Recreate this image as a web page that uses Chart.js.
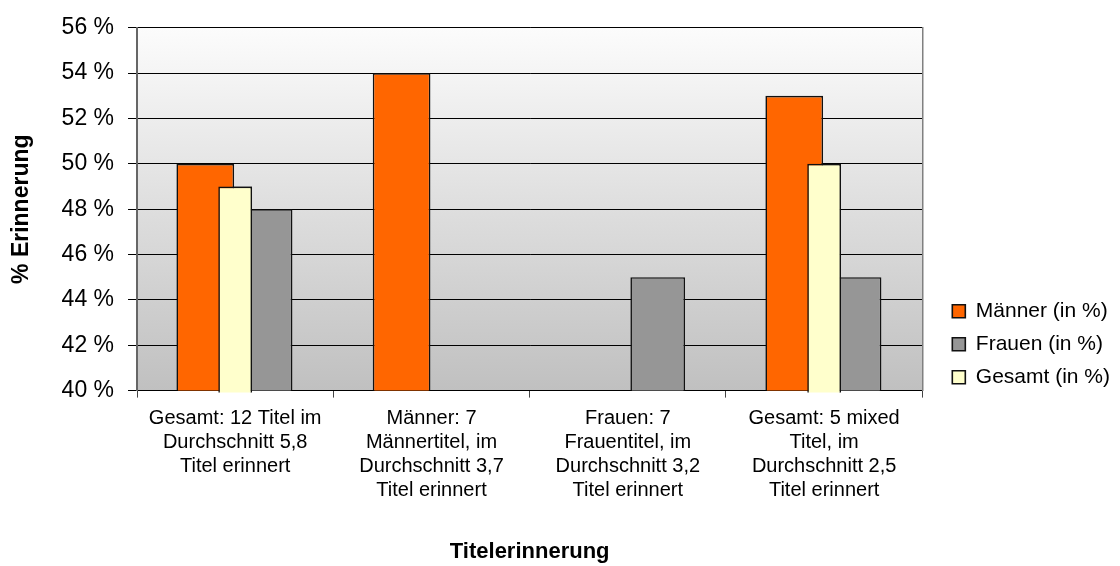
<!DOCTYPE html>
<html>
<head>
<meta charset="utf-8">
<script src="https://cdn.jsdelivr.net/npm/chart.js@4"></script>
<style>
  html, body { margin: 0; padding: 0; background: #fff; }
  #chart { display: block; }
</style>
</head>
<body>
<canvas id="chart" width="1120" height="566"></canvas>
<script>
// categories (multi-line tick labels) and series values
var categories = [
  [ "Gesamt: 12 Titel im", "Durchschnitt 5,8", "Titel erinnert" ],
  [ "Männer: 7", "Männertitel, im", "Durchschnitt 3,7", "Titel erinnert" ],
  [ "Frauen: 7", "Frauentitel, im", "Durchschnitt 3,2", "Titel erinnert" ],
  [ "Gesamt: 5 mixed", "Titel, im", "Durchschnitt 2,5", "Titel erinnert" ]
];
var maenner = [ 50, 54, null, 53 ];
var frauen = [ 48, null, 45, 45 ];
var gesamt = [ 49, null, null, 50 ];
var yTicks = [ 40, 42, 44, 46, 48, 50, 52, 54, 56 ];
var legendOrder = [ "Männer (in %)", "Frauen (in %)", "Gesamt (in %)" ];

var family = "'Liberation Sans', Arial, sans-serif";
Chart.defaults.font.family = family;
Chart.defaults.color = "#000";

// grey gradient behind the plot area
var plotBackground = {
  id: "plotBackground",
  beforeDraw: function ( chart ) {
    var a = chart.chartArea, ctx = chart.ctx;
    var g = ctx.createLinearGradient( 0, a.top, 0, a.bottom );
    g.addColorStop( 0, "#fcfcfc" );
    g.addColorStop( 1, "#c0c0c0" );
    ctx.save();
    ctx.fillStyle = g;
    ctx.fillRect( a.left, a.top, a.right - a.left, a.bottom - a.top );
    ctx.restore();
  }
};

// the middle (Gesamt) bars sit in front of the overlapping neighbours
var frontBars = {
  id: "frontBars",
  afterDatasetsDraw: function ( chart ) {
    var ctx = chart.ctx, a = chart.chartArea;
    ctx.save();
    ctx.beginPath();
    ctx.rect( a.left, a.top - 2, a.right - a.left, a.bottom - a.top + 4 );
    ctx.clip();
    chart.getDatasetMeta( 1 ).controller.draw();
    ctx.restore();
  }
};

var context = document.getElementById( "chart" ).getContext( "2d" );
new Chart( context, {
  type: "bar",
  data: {
    labels: categories,
    datasets: [ {
      label: "Männer (in %)",
      data: maenner,
      backgroundColor: "#ff6600",
      borderColor: "#111",
      borderWidth: 1.6,
      borderSkipped: false,
      categoryPercentage: 0.457,
      barPercentage: 1.93
    }, {
      label: "Gesamt (in %)",
      data: gesamt,
      backgroundColor: "#ffffcc",
      borderColor: "#111",
      borderWidth: 1.6,
      borderSkipped: false,
      categoryPercentage: 0.457,
      barPercentage: 1.13
    }, {
      label: "Frauen (in %)",
      data: frauen,
      backgroundColor: "#969696",
      borderColor: "#111",
      borderWidth: 1.6,
      borderSkipped: false,
      categoryPercentage: 0.457,
      barPercentage: 1.83
    } ]
  },
  options: {
    responsive: false,
    animation: false,
    layout: { padding: { top: 18, right: 0, left: 0, bottom: 0 } },
    plugins: {
      tooltip: { enabled: false },
      legend: {
        position: "right",
        title: { display: true, text: "", font: { size: 12 }, padding: { top: 90, bottom: 0 } },
        labels: {
          font: { size: 21 },
          color: "#000",
          boxWidth: 13,
          boxHeight: 13,
          padding: 12,
          sort: function ( a, b ) {
            return legendOrder.indexOf( a.text ) - legendOrder.indexOf( b.text );
          }
        }
      }
    },
    scales: {
      x: {
        type: "category",
        offset: true,
        grid: { offset: true, drawOnChartArea: false, tickLength: 7, color: "#444" },
        border: { color: "#000", width: 1 },
        ticks: {
          color: "#000",
          font: { size: 20, lineHeight: 1.2 },
          padding: 9,
          autoSkip: false,
          maxRotation: 0
        },
        title: {
          display: true,
          text: "Titelerinnerung",
          font: { size: 22, weight: "bold" },
          padding: { top: 27, bottom: 1 }
        }
      },
      y: {
        min: 40,
        max: 56,
        afterBuildTicks: function ( scale ) {
          scale.ticks = yTicks.map( function ( v ) { return { value: v }; } );
        },
        grid: { color: "#000", lineWidth: 1, tickLength: 9 },
        border: { color: "#666", width: 2 },
        ticks: {
          color: "#000",
          font: { size: 23 },
          padding: 14,
          callback: function ( value ) { return value + " %"; }
        },
        title: {
          display: true,
          text: "% Erinnerung",
          font: { size: 23, weight: "bold" },
          padding: { top: 8, bottom: 12 }
        }
      },
      yR: {
        position: "right",
        min: 40,
        max: 56,
        grid: { drawOnChartArea: false, drawTicks: false },
        border: { color: "#808080", width: 1.5 },
        ticks: { display: false },
        afterFit: function ( scale ) { scale.width = 18; }
      }
    }
  },
  plugins: [ plotBackground, frontBars ]
} );
</script>
</body>
</html>
